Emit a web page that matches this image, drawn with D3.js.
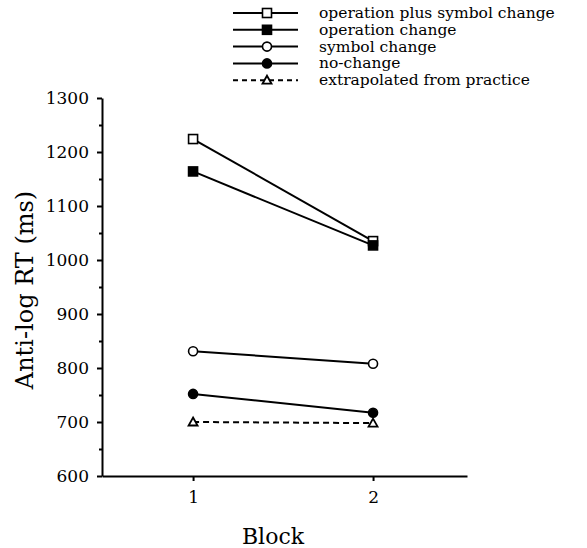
<!DOCTYPE html>
<html>
<head>
<meta charset="utf-8">
<title>Anti-log RT by block</title>
<script src="https://d3js.org/d3.v7.min.js"></script>
<style>
  body { margin: 0; background: #fff; }
  svg text { font-family: "DejaVu Serif", "Liberation Serif", serif; fill: #000; }
  .axis path, .axis line { stroke: #000; stroke-width: 2px; }
  .axis text { font-size: 17px; font-family: "DejaVu Serif", serif; }
</style>
</head>
<body>
<div id="chart"></div>
<script>
// data
const blocks = [1, 2];
const seriesNames = ["operation plus symbol change", "operation change", "symbol change", "no-change", "extrapolated from practice"];
const opSymValues = [1224, 1035];
const opValues = [1164, 1027];
const symValues = [831, 808];
const noChangeValues = [752, 717];
const extrapValues = [700, 698];
const yTicks = [600, 700, 800, 900, 1000, 1100, 1200, 1300];
const yMinorTicks = [650, 750, 850, 950, 1050, 1150, 1250];

const series = [
    {name: seriesNames[0], values: opSymValues, shape: "square", filled: false, dashed: false},
    {name: seriesNames[1], values: opValues, shape: "square", filled: true, dashed: false},
    {name: seriesNames[2], values: symValues, shape: "circle", filled: false, dashed: false},
    {name: seriesNames[3], values: noChangeValues, shape: "circle", filled: true, dashed: false},
    {name: seriesNames[4], values: extrapValues, shape: "triangle", filled: false, dashed: true}
];

const W = 587, H = 548;
const svg = d3.select("#chart").append("svg")
    .attr("width", W).attr("height", H);

const x = d3.scaleLinear().domain([0.494, 2.522]).range([102, 467]);
const y = d3.scaleLinear().domain([600, 1300]).range([476, 98]);

// y axis, minor ticks first
svg.append("g")
    .attr("class", "axis")
    .attr("transform", "translate(102,0)")
    .call(d3.axisLeft(y).tickValues(yMinorTicks).tickSize(3).tickFormat(""))
    .call(g => g.select(".domain").remove());

svg.append("g")
    .attr("class", "axis")
    .attr("transform", "translate(102,0)")
    .call(d3.axisLeft(y).tickValues(yTicks).tickSize(5).tickSizeOuter(0).tickPadding(8).tickFormat(d3.format("d")));

// x axis
svg.append("g")
    .attr("class", "axis")
    .attr("transform", "translate(0,476)")
    .call(d3.axisBottom(x).tickValues(blocks).tickSize(5).tickSizeOuter(0).tickPadding(10).tickFormat(d3.format("d")));

svg.append("text")
    .attr("transform", "translate(33,290) rotate(-90)")
    .attr("text-anchor", "middle")
    .style("font-size", "24px")
    .text("Anti-log RT (ms)");

svg.append("text")
    .attr("x", 273).attr("y", 544)
    .attr("text-anchor", "middle")
    .style("font-size", "22px")
    .text("Block");

function drawMarker(g, s, cx, cy) {
    const fill = s.filled ? "#000" : "#fff";
    if (s.shape === "square") {
        g.append("rect")
            .attr("x", cx - 4.5).attr("y", cy - 4.5)
            .attr("width", 9).attr("height", 9)
            .attr("fill", fill).attr("stroke", "#000").attr("stroke-width", 1.6);
    } else if (s.shape === "circle") {
        g.append("circle")
            .attr("cx", cx).attr("cy", cy).attr("r", 4.5)
            .attr("fill", fill).attr("stroke", "#000").attr("stroke-width", 1.6);
    } else {
        g.append("path")
            .attr("d", `M${cx},${cy - 4.5}L${cx + 4.5},${cy + 3.5}L${cx - 4.5},${cy + 3.5}Z`)
            .attr("fill", fill).attr("stroke", "#000").attr("stroke-width", 1.8);
    }
}

const line = d3.line()
    .x((d, i) => x(blocks[i]))
    .y(d => y(d));

const plot = svg.append("g");
series.forEach(s => {
    plot.append("path")
        .attr("d", line(s.values))
        .attr("fill", "none")
        .attr("stroke", "#000")
        .attr("stroke-width", 2)
        .attr("stroke-dasharray", s.dashed ? "6,4" : null);
});
series.forEach(s => {
    s.values.forEach((v, i) => drawMarker(plot, s, x(blocks[i]), y(v)));
});

// legend
const legend = svg.append("g").attr("transform", "translate(233,13)");
series.forEach((s, i) => {
    const row = legend.append("g").attr("transform", `translate(0,${i * 16.8})`);
    row.append("line")
        .attr("x1", 0).attr("x2", 65)
        .attr("y1", 0).attr("y2", 0)
        .attr("stroke", "#000").attr("stroke-width", 2)
        .attr("stroke-dasharray", s.dashed ? "5,4" : null);
    drawMarker(row, s, 34, 0);
    row.append("text")
        .attr("x", 86).attr("y", 5)
        .style("font-size", "15.5px")
        .text(s.name);
});
</script>
</body>
</html>
